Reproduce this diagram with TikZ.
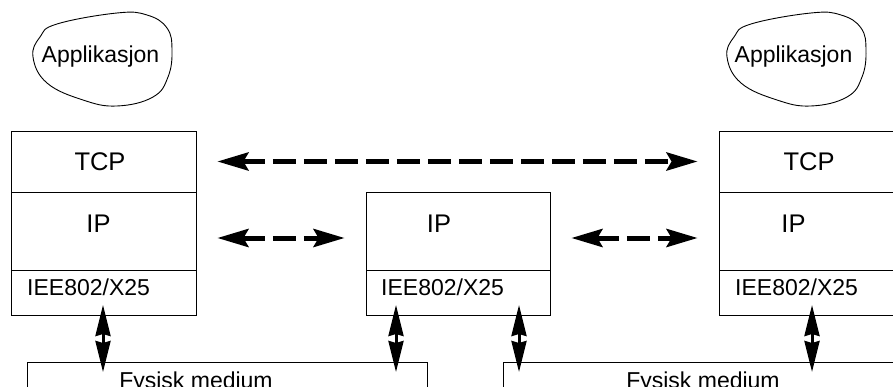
\documentclass[tikz,border=0pt]{standalone}
\usepackage{fontspec}
\setmainfont{Liberation Sans}
\usetikzlibrary{arrows.meta}
\tikzset{
  layer/.style={draw, line width=0.8pt, inner sep=0pt, rectangle},
  bigtxt/.style={font=\fontsize{25.5}{30}\selectfont, inner sep=0pt},
  smalltxt/.style={font=\fontsize{23}{27}\selectfont, inner sep=0pt},
  blob/.style={draw, line width=0.9pt},
  dasharrow/.style={line width=5pt, dash pattern=on 23pt off 8pt,
    {Stealth[length=31pt,width=18pt,inset=5pt]}-{Stealth[length=31pt,width=18pt,inset=5pt]},
    shorten <=21pt, shorten >=21pt},
  varrow/.style={line width=3pt,
    {Stealth[length=31pt,width=15pt,inset=2pt]}-{Stealth[length=31pt,width=15pt,inset=2pt]}}
}
\begin{document}
\begin{tikzpicture}[x=1pt,y=-1pt]
\useasboundingbox (0,0) rectangle (893,387);
\clip (0,0) rectangle (893,387);
% application blobs
\draw[blob] plot[smooth cycle, tension=0.7] coordinates {(57,24) (117,13) (147,15) (167,28) (172,50) (168,77) (153,97) (117,106) (83,100) (47,83) (33,57) (40,37)};
\node[smalltxt] (appL) at (100.5,57) {Applikasjon};
\begin{scope}[xshift=694pt]
\draw[blob] plot[smooth cycle, tension=0.7] coordinates {(57,24) (117,13) (147,15) (167,28) (172,50) (168,77) (153,97) (117,106) (83,100) (47,83) (33,57) (40,37)};
\end{scope}
\node[smalltxt] (appR) at (793.5,57) {Applikasjon};
% left stack
\node[layer, minimum width=185pt, minimum height=61pt] (tcpL) at (103.5,161.5) {};
\node[layer, minimum width=185pt, minimum height=78pt] (ipL) at (103.5,231) {};
\node[layer, minimum width=185pt, minimum height=45pt] (linkL) at (103.5,292.5) {};
\node[bigtxt] (tcpLt) at (100,162) {TCP};
\node[bigtxt] (ipLt) at (98.5,224) {IP};
\node[smalltxt, anchor=base west] (linkLt) at (27,295) {IEE802/X25};
% middle stack
\node[layer, minimum width=184pt, minimum height=78pt] (ipM) at (458,231) {};
\node[layer, minimum width=184pt, minimum height=45pt] (linkM) at (458,292.5) {};
\node[bigtxt] (ipMt) at (439,224) {IP};
\node[smalltxt, anchor=base west] (linkMt) at (381,295) {IEE802/X25};
% right stack
\node[layer, minimum width=185pt, minimum height=61pt] (tcpR) at (811.5,161.5) {};
\node[layer, minimum width=185pt, minimum height=78pt] (ipR) at (811.5,231) {};
\node[layer, minimum width=185pt, minimum height=45pt] (linkR) at (811.5,292.5) {};
\node[bigtxt] (tcpRt) at (809,162) {TCP};
\node[bigtxt] (ipRt) at (793.5,224) {IP};
\node[smalltxt, anchor=base west] (linkRt) at (735,295) {IEE802/X25};
% physical media
\node[layer, minimum width=400pt, minimum height=60pt] (medL) at (227,392) {};
\node[layer, minimum width=400pt, minimum height=60pt] (medR) at (703,392) {};
\node[smalltxt, anchor=base] (medLt) at (196,388.5) {Fysisk medium};
\node[smalltxt, anchor=base] (medRt) at (703,388.5) {Fysisk medium};
% peer arrows
\draw[dasharrow] (tcpL.east) -- (tcpR.west);
\draw[dasharrow] ([yshift=-7pt]ipL.east) -- ([yshift=-7pt]ipM.west);
\draw[dasharrow] ([yshift=-7pt]ipM.east) -- ([yshift=-7pt]ipR.west);
% vertical arrows
\coordinate (v1a) at (103,305); \coordinate (v1b) at (103,372);
\coordinate (v2a) at (396,305); \coordinate (v2b) at (396,372);
\coordinate (v3a) at (519,305); \coordinate (v3b) at (519,372);
\coordinate (v4a) at (812,305); \coordinate (v4b) at (812,372);
\draw[varrow] (v1a) -- (v1b);
\draw[varrow] (v2a) -- (v2b);
\draw[varrow] (v3a) -- (v3b);
\draw[varrow] (v4a) -- (v4b);
\end{tikzpicture}
\end{document}
